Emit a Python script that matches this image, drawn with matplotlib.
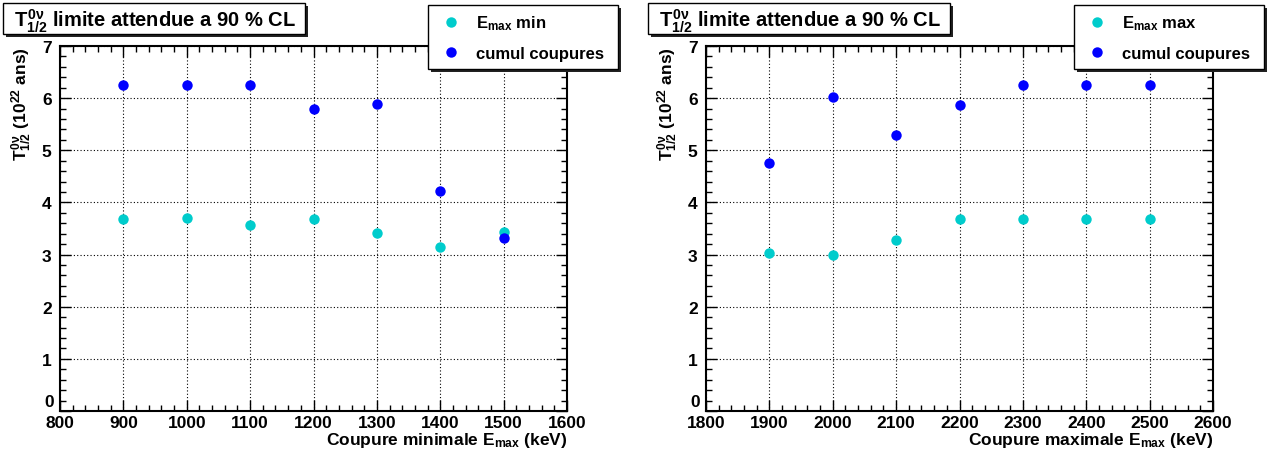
import numpy as np
import matplotlib
matplotlib.use("Agg")
import matplotlib.pyplot as plt
from matplotlib.patches import Rectangle
from matplotlib.ticker import MultipleLocator, FuncFormatter

plt.rcParams['font.family'] = ['Liberation Sans', 'DejaVu Sans']
plt.rcParams['font.weight'] = 'bold'
plt.rcParams['mathtext.fontset'] = 'custom'
plt.rcParams['mathtext.rm'] = 'Liberation Sans:bold'
plt.rcParams['mathtext.bf'] = 'Liberation Sans:bold'
plt.rcParams['mathtext.it'] = 'Liberation Sans:bold'
plt.rcParams['mathtext.sf'] = 'Liberation Sans:bold'

# data
e_min_cut = [900, 1000, 1100, 1200, 1300, 1400, 1500]
t_emin = [3.69, 3.71, 3.56, 3.68, 3.41, 3.15, 3.44]
t_cumul_min = [6.26, 6.26, 6.26, 5.80, 5.89, 4.22, 3.31]

e_max_cut = [1900, 2000, 2100, 2200, 2300, 2400, 2500]
t_emax = [3.03, 3.00, 3.28, 3.68, 3.69, 3.68, 3.68]
t_cumul_max = [4.76, 6.03, 5.29, 5.87, 6.26, 6.26, 6.26]

title = r'$T^{0\nu}_{1/2}$ limite attendue a 90 % CL'
ylabel = r'$T^{0\nu}_{1/2}$ (10$^{22}$ ans)'
cyan = '#00cccc'
blue = '#0000ff'

W, H = 1271, 456
fig = plt.figure(figsize=(W / 100, H / 100), dpi=100)


def px_box(x0, y0, x1, y1):
    # pixel box (top-left origin) -> figure coords
    return x0 / W, 1 - y1 / H, (x1 - x0) / W, (y1 - y0) / H


def shadow_box(x0, y0, x1, y1, off=3):
    sx, sy, sw, sh = px_box(x0 + off, y0 + off, x1 + off, y1 + off)
    fig.add_artist(Rectangle((sx, sy), sw, sh, transform=fig.transFigure,
                             facecolor='#222222', edgecolor='none', zorder=5))
    bx, by, bw, bh = px_box(x0, y0, x1, y1)
    fig.add_artist(Rectangle((bx, by), bw, bh, transform=fig.transFigure,
                             facecolor='white', edgecolor='black', lw=1, zorder=6))


panels = [
    (60, e_min_cut, t_emin, t_cumul_min, r'$\mathbf{E_{max}}$ min',
     r'Coupure minimale E$_{max}$ (keV)', (800, 1600), 3, 428),
    (706, e_max_cut, t_emax, t_cumul_max, r'$\mathbf{E_{max}}$ max',
     r'Coupure maximale E$_{max}$ (keV)', (1800, 2600), 648, 1074),
]

for left, xs, ys1, ys2, lab1, xlab, xlim, tx, lx in panels:
    ax = fig.add_axes(px_box(left, 47, left + 507, 412))
    h1, = ax.plot(xs, ys1, 'o', color=cyan, ms=7.5, mec='none', zorder=3)
    h2, = ax.plot(xs, ys2, 'o', color=blue, ms=7.5, mec='none', zorder=3)
    ax.set_xlim(*xlim)
    ax.set_ylim(0, 7)
    ax.xaxis.set_major_locator(MultipleLocator(100))
    ax.xaxis.set_minor_locator(MultipleLocator(20))
    ax.yaxis.set_major_locator(MultipleLocator(1))
    ax.yaxis.set_minor_locator(MultipleLocator(0.2))
    # the "0" is drawn separately, just above the first x label (ROOT style)
    ax.yaxis.set_major_formatter(FuncFormatter(lambda v, p: '' if v == 0 else f'{v:g}'))
    ax.tick_params(which='both', direction='in', top=True, right=True,
                   labelsize=12.5, width=1)
    ax.tick_params(which='major', length=8)
    ax.tick_params(which='minor', length=4)
    ax.tick_params(axis='x', pad=3)
    ax.tick_params(axis='y', pad=6)
    for s in ax.spines.values():
        s.set_linewidth(1.5)
    ax.grid(True, which='major', color='black', lw=0.8, ls=(0, (1, 2)))
    ax.set_xlabel(xlab, fontsize=12.5, fontweight='bold', loc='right', labelpad=0)
    ax.set_ylabel(ylabel, fontsize=12.5, fontweight='bold', loc='top', labelpad=6)
    ax.annotate('0', xy=(0, 0), xycoords=('axes fraction', 'data'),
                xytext=(-4.5, 3.5), textcoords='offset points',
                ha='right', va='baseline', fontsize=12.5, fontweight='bold')

    # title box
    shadow_box(tx, 4, tx + 302, 35)
    fig.text((tx + 11) / W, 1 - 21 / H, title, fontsize=14.5, fontweight='bold',
             va='center', ha='left', zorder=7)

    # legend box
    shadow_box(lx, 6, lx + 190, 70)
    leg = fig.legend([h1, h2], [lab1, 'cumul coupures'], loc='center left',
                     bbox_to_anchor=((lx + 15) / W, 1 - 38 / H),
                     bbox_transform=fig.transFigure, frameon=False,
                     fontsize=12, handlelength=1.0, handletextpad=0.95,
                     labelspacing=0.8, borderpad=0, borderaxespad=0)
    leg.set_zorder(8)
    for t in leg.get_texts():
        t.set_fontweight('bold')

fig.savefig('out.png', dpi=100)
